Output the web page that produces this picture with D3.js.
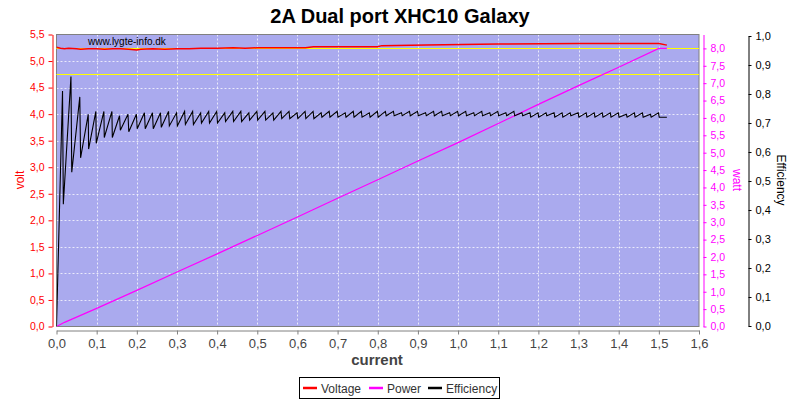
<!DOCTYPE html>
<html>
<head>
<meta charset="utf-8">
<script src="https://cdn.jsdelivr.net/npm/d3@7"></script>
<style>
  html, body { margin: 0; padding: 0; background: #ffffff; }
  svg { display: block; }
  text { font-family: "Liberation Sans", Arial, sans-serif; }
</style>
</head>
<body>
<svg id="chart" width="800" height="400"></svg>
<script>
// ---------------- data ----------------
const title = "2A Dual port XHC10 Galaxy";
const currentTicks = [0, 0.1, 0.2, 0.3, 0.4, 0.5, 0.6, 0.7, 0.8, 0.9, 1.0, 1.1, 1.2, 1.3, 1.4, 1.5, 1.6];
const voltTicks = [0, 0.5, 1.0, 1.5, 2.0, 2.5, 3.0, 3.5, 4.0, 4.5, 5.0, 5.5];
const wattTicks = [0, 0.5, 1.0, 1.5, 2.0, 2.5, 3.0, 3.5, 4.0, 4.5, 5.0, 5.5, 6.0, 6.5, 7.0, 7.5, 8.0];
const effTicks = [0, 0.1, 0.2, 0.3, 0.4, 0.5, 0.6, 0.7, 0.8, 0.9, 1.0];
const limitVolts = [5.25, 4.75];

// [current (A), voltage (V)]
const voltage = [
  [0.00, 5.26], [0.01, 5.24], [0.02, 5.23], [0.03, 5.24], [0.05, 5.23], [0.06, 5.22],
  [0.08, 5.23], [0.10, 5.23], [0.12, 5.22], [0.14, 5.23], [0.16, 5.23], [0.18, 5.22],
  [0.20, 5.21], [0.21, 5.22], [0.24, 5.23], [0.27, 5.22], [0.30, 5.23], [0.33, 5.23],
  [0.36, 5.24], [0.40, 5.24], [0.44, 5.25], [0.47, 5.24], [0.50, 5.25], [0.54, 5.25],
  [0.58, 5.25], [0.62, 5.25], [0.64, 5.27], [0.70, 5.27], [0.80, 5.27], [0.81, 5.29],
  [0.92, 5.30], [1.10, 5.32], [1.30, 5.33], [1.50, 5.33], [1.52, 5.30]
];

// [current (A), power (W)]
const power = [
  [0.00, 0.00], [0.02, 0.12], [0.04, 0.22], [0.06, 0.32], [0.08, 0.42], [0.10, 0.52],
  [0.15, 0.78], [0.20, 1.04], [0.30, 1.57], [0.40, 2.09], [0.50, 2.62], [0.60, 3.15],
  [0.70, 3.69], [0.80, 4.22], [0.90, 4.76], [1.00, 5.29], [1.10, 5.84], [1.20, 6.39],
  [1.30, 6.93], [1.40, 7.46], [1.50, 8.00], [1.52, 8.00]
];

// [current (A), efficiency]
const efficiency = [
  [0.000, 0.00], [0.015, 0.81], [0.017, 0.42], [0.036, 0.86], [0.038, 0.53], [0.058, 0.79],
  [0.060, 0.58], [0.079, 0.73], [0.080, 0.61], [0.098, 0.74], [0.099, 0.63], [0.118, 0.74],
  [0.119, 0.65], [0.138, 0.74], [0.139, 0.65], [0.157, 0.725], [0.159, 0.675], [0.178, 0.73],
  [0.180, 0.67], [0.199, 0.73], [0.201, 0.68], [0.219, 0.735], [0.221, 0.68],
  [0.239, 0.735], [0.241, 0.68], [0.259, 0.735], [0.261, 0.685], [0.279, 0.74],
  [0.281, 0.69], [0.299, 0.735], [0.301, 0.69], [0.319, 0.74], [0.321, 0.695], [0.339, 0.74],
  [0.341, 0.695], [0.359, 0.735], [0.361, 0.70], [0.379, 0.74], [0.381, 0.70], [0.399, 0.74],
  [0.401, 0.70], [0.419, 0.735], [0.421, 0.705], [0.439, 0.74], [0.441, 0.705], [0.459, 0.74],
  [0.461, 0.705], [0.479, 0.735], [0.481, 0.71], [0.499, 0.74], [0.501, 0.71], [0.519, 0.74],
  [0.521, 0.71], [0.539, 0.735], [0.541, 0.71], [0.559, 0.74], [0.561, 0.715], [0.579, 0.74],
  [0.581, 0.715], [0.599, 0.735], [0.601, 0.715], [0.619, 0.74], [0.621, 0.715], [0.639, 0.74],
  [0.641, 0.715], [0.659, 0.735], [0.661, 0.72], [0.679, 0.74], [0.681, 0.72], [0.699, 0.74],
  [0.701, 0.72], [0.719, 0.735], [0.721, 0.72], [0.739, 0.74], [0.741, 0.72], [0.759, 0.74],
  [0.761, 0.72], [0.779, 0.735], [0.781, 0.72], [0.799, 0.74], [0.801, 0.72], [0.819, 0.74],
  [0.821, 0.725], [0.839, 0.74], [0.841, 0.725], [0.859, 0.735], [0.861, 0.725], [0.879, 0.74],
  [0.881, 0.725], [0.899, 0.74], [0.901, 0.725], [0.919, 0.735], [0.921, 0.725], [0.939, 0.74],
  [0.941, 0.725], [0.959, 0.74], [0.961, 0.725], [0.979, 0.735], [0.981, 0.725], [0.999, 0.74],
  [1.001, 0.725], [1.019, 0.74], [1.021, 0.725], [1.039, 0.735], [1.041, 0.725], [1.059, 0.74],
  [1.061, 0.725], [1.079, 0.735], [1.081, 0.725], [1.099, 0.74], [1.101, 0.725], [1.119, 0.735],
  [1.121, 0.725], [1.139, 0.74], [1.141, 0.725], [1.159, 0.735], [1.161, 0.725], [1.179, 0.735],
  [1.181, 0.72], [1.199, 0.735], [1.201, 0.72], [1.219, 0.735], [1.221, 0.725], [1.239, 0.735],
  [1.241, 0.72], [1.259, 0.735], [1.261, 0.72], [1.279, 0.735], [1.281, 0.725], [1.299, 0.735],
  [1.301, 0.72], [1.319, 0.735], [1.321, 0.72], [1.339, 0.735], [1.341, 0.72], [1.359, 0.735],
  [1.361, 0.72], [1.379, 0.735], [1.381, 0.72], [1.399, 0.735], [1.401, 0.72], [1.419, 0.73],
  [1.421, 0.72], [1.439, 0.735], [1.441, 0.72], [1.459, 0.735], [1.461, 0.72], [1.479, 0.73],
  [1.481, 0.72], [1.499, 0.735], [1.501, 0.72], [1.520, 0.72]
];

const legendItems = [
  { name: "Voltage", color: "#ff0000" },
  { name: "Power", color: "#ff00ff" },
  { name: "Efficiency", color: "#000000" }
];

// ---------------- layout ----------------
const svg = d3.select("#chart");
const plot = { left: 56.5, right: 699, top: 34.5, bottom: 326.5 };

const x = d3.scaleLinear().domain([0, 1.6]).range([plot.left, plot.right]);
const yV = d3.scaleLinear().domain([0, 5.5]).range([plot.bottom, plot.top]);
const yW = d3.scaleLinear().domain([0, 8.4]).range([plot.bottom, plot.top]);
const yE = d3.scaleLinear().domain([0, 1.0]).range([plot.bottom - 0.5, plot.top + 1.5]);

const fmt = d => d.toFixed(1).replace(".", ",");

// title
svg.append("text")
  .attr("x", 400).attr("y", 23)
  .attr("text-anchor", "middle")
  .style("font-size", "20px").style("font-weight", "bold")
  .attr("fill", "#000")
  .text(title);

// plot background
svg.append("rect")
  .attr("x", plot.left).attr("y", plot.top)
  .attr("width", plot.right - plot.left).attr("height", plot.bottom - plot.top)
  .attr("fill", "#aaaaee");

// grid
const grid = svg.append("g");
grid.selectAll("line.v").data(currentTicks.slice(1, -1)).enter().append("line")
  .attr("x1", d => Math.round(x(d)) + 0.5).attr("x2", d => Math.round(x(d)) + 0.5)
  .attr("y1", plot.top).attr("y2", plot.bottom)
  .attr("stroke", "#ffffff").attr("stroke-opacity", 0.75)
  .attr("stroke-dasharray", "2,2").attr("stroke-width", 1);
grid.selectAll("line.h").data(voltTicks.slice(1, -1)).enter().append("line")
  .attr("y1", d => Math.round(yV(d)) + 0.5).attr("y2", d => Math.round(yV(d)) + 0.5)
  .attr("x1", plot.left).attr("x2", plot.right)
  .attr("stroke", "#ffffff").attr("stroke-opacity", 0.75)
  .attr("stroke-dasharray", "2,2").attr("stroke-width", 1);

// plot outline
svg.append("rect")
  .attr("x", plot.left).attr("y", plot.top)
  .attr("width", plot.right - plot.left).attr("height", plot.bottom - plot.top)
  .attr("fill", "none").attr("stroke", "#808080").attr("stroke-width", 1);

// yellow limit lines
svg.append("g").selectAll("line").data(limitVolts).enter().append("line")
  .attr("x1", plot.left).attr("x2", plot.right)
  .attr("y1", d => Math.round(yV(d)) + 0.5).attr("y2", d => Math.round(yV(d)) + 0.5)
  .attr("stroke", "#ffff00").attr("stroke-width", 1.2);

// watermark
svg.append("text")
  .attr("x", 88).attr("y", 45)
  .style("font-size", "10px")
  .attr("fill", "#000")
  .text("www.lygte-info.dk");

// series
const clip = svg.append("defs").append("clipPath").attr("id", "clip")
  .append("rect").attr("x", plot.left).attr("y", plot.top)
  .attr("width", plot.right - plot.left).attr("height", plot.bottom - plot.top);
const series = svg.append("g").attr("clip-path", "url(#clip)");

series.append("path").datum(power)
  .attr("fill", "none").attr("stroke", "#ff00ff").attr("stroke-width", 1.2)
  .attr("d", d3.line().x(d => x(d[0])).y(d => yW(d[1])));
series.append("path").datum(efficiency)
  .attr("fill", "none").attr("stroke", "#000000").attr("stroke-width", 1.1)
  .attr("stroke-linejoin", "miter")
  .attr("d", d3.line().x(d => x(d[0])).y(d => yE(d[1])));
series.append("path").datum(voltage)
  .attr("fill", "none").attr("stroke", "#ff0000").attr("stroke-width", 1.5)
  .attr("d", d3.line().x(d => x(d[0])).y(d => yV(d[1])));

// axes
function styleAxis(g, color, size) {
  g.select(".domain").attr("stroke", color);
  g.selectAll(".tick line").attr("stroke", color);
  g.selectAll(".tick text").attr("fill", color).style("font-size", size)
    .style("font-family", '"Liberation Sans", Arial, sans-serif');
}

const gx = svg.append("g").attr("transform", "translate(0,330.5)")
  .call(d3.axisBottom(x).tickValues(currentTicks).tickFormat(fmt).tickSize(4).tickSizeOuter(0).tickPadding(4));
styleAxis(gx, "#808080", "13px");
gx.selectAll(".tick text").attr("fill", "#444444");

const gl = svg.append("g").attr("transform", "translate(52.5,0)")
  .call(d3.axisLeft(yV).tickValues(voltTicks).tickFormat(fmt).tickSize(4).tickSizeOuter(0).tickPadding(4));
styleAxis(gl, "#ff0000", "10.5px");

const gw = svg.append("g").attr("transform", "translate(703.5,0)")
  .call(d3.axisRight(yW).tickValues(wattTicks).tickFormat(fmt).tickSize(3).tickSizeOuter(0).tickPadding(4));
styleAxis(gw, "#ff00ff", "10.5px");

const ge = svg.append("g").attr("transform", "translate(748.5,0)")
  .call(d3.axisRight(yE).tickValues(effTicks).tickFormat(fmt).tickSize(3).tickSizeOuter(0).tickPadding(4));
styleAxis(ge, "#000000", "11px");

// axis titles
svg.append("text")
  .attr("x", 377).attr("y", 365)
  .attr("text-anchor", "middle")
  .style("font-size", "15px").style("font-weight", "bold")
  .attr("fill", "#444444")
  .text("current");

svg.append("text")
  .attr("transform", "translate(24,180) rotate(-90)")
  .attr("text-anchor", "middle")
  .style("font-size", "12px")
  .attr("fill", "#ff0000")
  .text("volt");

svg.append("text")
  .attr("transform", "translate(733,180) rotate(90)")
  .attr("text-anchor", "middle")
  .style("font-size", "12px")
  .attr("fill", "#ff00ff")
  .text("watt");

svg.append("text")
  .attr("transform", "translate(777,180) rotate(90)")
  .attr("text-anchor", "middle")
  .style("font-size", "12px")
  .attr("fill", "#000000")
  .text("Efficiency");

// legend
const legend = svg.append("g");
legend.append("rect")
  .attr("x", 299.5).attr("y", 377.5).attr("width", 200).attr("height", 21)
  .attr("fill", "#ffffff").attr("stroke", "#000000").attr("stroke-width", 1);
const legendX = [303, 369, 428];
legendItems.forEach((item, i) => {
  legend.append("line")
    .attr("x1", legendX[i]).attr("x2", legendX[i] + 14)
    .attr("y1", 388).attr("y2", 388)
    .attr("stroke", item.color).attr("stroke-width", 2.5);
  legend.append("text")
    .attr("x", legendX[i] + 18).attr("y", 392.5)
    .style("font-size", "12px")
    .attr("fill", "#333333")
    .text(item.name);
});
</script>
</body>
</html>
